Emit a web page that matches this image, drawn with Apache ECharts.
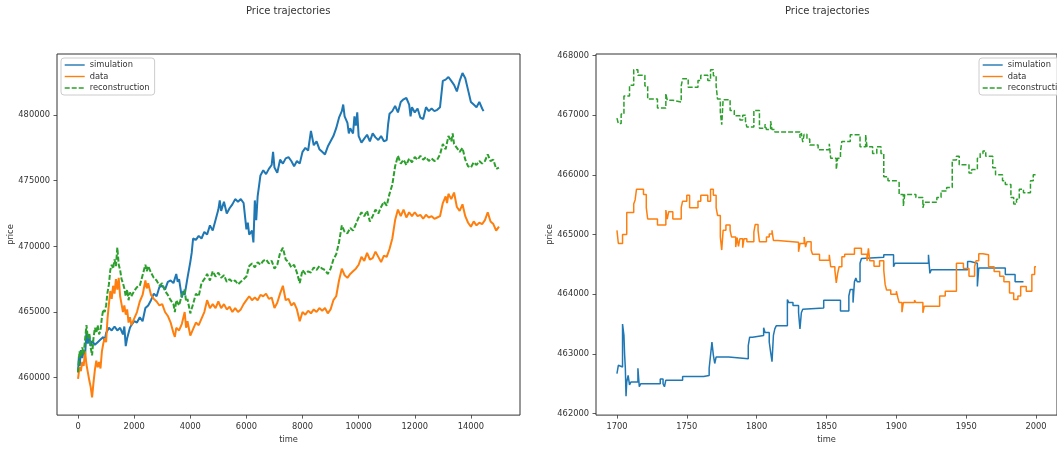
<!DOCTYPE html>
<html>
<head>
<meta charset="utf-8">
<script src="https://cdn.jsdelivr.net/npm/echarts@6/dist/echarts.min.js"></script>
<style>
html,body{margin:0;padding:0;background:#fff;}
#chart{width:1057px;height:449px;}
</style>
</head>
<body>
<div id="chart"></div>
<script>
// ---- data (prices in thousands) ----
const seriesNames = ['simulation', 'data', 'reconstruction'];
const titleText = 'Price trajectories';

// Left panel: full trajectories
const simLeftT = [0,30,60,100,150,200,250,300,350,400,450,500,600,700,800,900,950,1000,1100,1200,1300,1400,1500,1600,1650,1700,1750,1800,1850,1900,2000,2100,2200,2300,2400,2500,2600,2700,2800,2900,3000,3100,3200,3300,3400,3500,3550,3600,3700,3750,3800,3900,4000,4050,4100,4200,4300,4400,4500,4600,4700,4800,4900,5000,5050,5100,5200,5300,5400,5500,5600,5700,5800,5900,6000,6050,6100,6200,6250,6300,6350,6400,6500,6600,6700,6800,6900,6950,7000,7100,7200,7300,7400,7500,7600,7700,7800,7900,8000,8100,8200,8300,8400,8500,8600,8700,8800,8900,9000,9100,9200,9300,9400,9450,9500,9600,9650,9700,9800,9850,9900,9950,10000,10100,10200,10300,10400,10500,10600,10700,10800,10900,11000,11050,11100,11200,11300,11400,11500,11600,11700,11800,11850,11900,12000,12100,12200,12300,12400,12500,12600,12700,12800,12900,13000,13100,13200,13300,13400,13500,13600,13700,13800,13900,14000,14100,14200,14300,14400,14450];
const simLeftV = [460.4,461.6,460.9,462.1,461.5,462.0,461.7,463.5,462.6,463.2,462.4,462.8,462.5,462.7,462.9,463.1,462.8,463.4,463.8,463.6,463.9,463.6,463.8,463.3,463.9,462.4,463.0,462.9,463.8,464.0,464.3,464.2,464.6,464.3,465.3,465.5,465.9,466.4,466.2,466.9,467.0,466.7,467.3,467.4,467.2,467.9,467.3,467.5,466.1,466.6,466.3,467.6,468.8,469.5,470.6,470.5,470.8,470.6,471.1,470.9,471.6,471.2,472.0,472.8,473.5,472.7,473.4,472.5,472.9,473.2,473.6,473.4,473.6,473.3,471.3,471.8,470.9,471.2,470.3,473.5,472.0,473.8,475.4,475.8,475.5,475.9,476.2,477.2,476.0,475.6,476.6,476.3,476.7,476.8,476.5,476.1,476.5,476.3,477.2,477.5,477.3,478.8,477.7,478.0,477.4,477.2,477.0,477.6,478.0,478.4,479.0,479.8,480.3,480.8,479.9,479.4,478.6,479.0,478.6,479.9,479.2,480.2,478.4,477.9,478.2,478.5,478.0,478.6,478.3,478.1,478.4,478.0,478.1,479.3,480.1,480.3,480.7,480.2,481.0,481.2,481.3,480.8,479.9,480.6,480.2,480.5,479.8,479.7,480.6,480.3,480.5,480.3,480.4,480.6,482.6,482.7,482.9,482.6,482.3,481.8,482.6,483.2,482.8,481.9,481.0,480.8,480.6,481.0,480.5,480.3];

const dataLeftT = [0,50,100,150,200,250,300,350,400,450,500,550,600,650,700,750,800,850,900,950,1000,1050,1100,1150,1200,1250,1300,1350,1400,1450,1500,1550,1600,1650,1700,1750,1800,1850,1900,2000,2100,2200,2300,2400,2450,2500,2600,2700,2800,2900,3000,3100,3200,3300,3400,3450,3500,3600,3700,3800,3850,3900,4000,4100,4200,4300,4400,4500,4600,4700,4800,4900,5000,5100,5200,5300,5400,5500,5600,5700,5800,5900,6000,6100,6200,6300,6400,6500,6600,6700,6800,6900,7000,7100,7200,7300,7400,7500,7600,7700,7800,7900,8000,8100,8200,8300,8400,8500,8600,8700,8800,8900,9000,9100,9200,9300,9400,9500,9600,9700,9800,9900,10000,10100,10200,10300,10400,10500,10600,10700,10800,10900,11000,11100,11200,11300,11400,11500,11600,11700,11800,11900,12000,12100,12200,12300,12400,12500,12600,12700,12800,12900,13000,13100,13150,13200,13300,13400,13500,13600,13700,13800,13900,14000,14100,14200,14300,14400,14500,14600,14700,14800,14900,15000];
const dataLeftV = [459.9,460.8,460.5,461.2,460.9,462.0,461.0,460.4,459.8,459.3,458.5,459.6,460.6,461.3,460.8,461.2,460.7,462.0,462.6,463.0,462.7,464.5,465.6,466.6,466.0,467.0,466.4,467.5,466.7,467.6,466.2,465.6,465.0,465.5,464.8,465.2,464.2,464.6,464.0,464.5,465.0,465.8,466.3,467.4,466.8,467.2,466.3,466.0,465.8,465.5,465.6,465.0,464.7,464.2,463.4,463.1,463.8,463.6,464.1,465.0,463.8,464.3,463.2,463.7,464.2,464.0,464.5,465.0,465.9,465.3,465.6,465.3,465.8,465.3,465.6,465.2,465.4,465.0,465.3,465.0,465.2,465.6,465.9,466.2,465.9,466.1,465.9,466.3,466.2,466.4,466.0,466.1,465.3,465.7,466.4,467.0,465.9,466.0,465.5,465.7,465.2,464.3,465.0,464.8,465.1,464.9,465.2,465.0,465.3,465.1,465.3,464.9,465.2,465.9,466.2,467.4,468.3,467.8,467.6,467.9,468.1,468.3,468.6,469.2,468.9,469.5,469.0,469.1,469.6,469.2,468.8,469.3,469.2,469.8,470.6,472.0,472.8,472.3,472.8,472.2,472.6,472.3,472.6,472.3,472.4,472.1,472.4,472.2,472.3,472.1,472.2,472.3,473.3,473.8,473.3,474.0,473.6,474.1,473.0,472.7,473.2,472.3,471.8,471.5,471.9,471.6,471.8,471.7,472.0,472.6,471.9,471.7,471.2,471.5];

const recLeftT = [0,50,100,150,200,250,300,350,400,450,500,550,600,650,700,750,800,850,900,950,1000,1050,1100,1150,1200,1250,1300,1350,1400,1450,1500,1550,1600,1650,1700,1750,1800,1850,1900,2000,2100,2200,2300,2400,2450,2500,2600,2700,2800,2900,3000,3100,3200,3300,3400,3450,3500,3600,3700,3800,3850,3900,4000,4100,4200,4300,4400,4500,4600,4700,4800,4900,5000,5100,5200,5300,5400,5500,5600,5700,5800,5900,6000,6100,6200,6300,6400,6500,6600,6700,6800,6900,7000,7100,7200,7300,7400,7500,7600,7700,7800,7900,8000,8100,8200,8300,8400,8500,8600,8700,8800,8900,9000,9100,9200,9300,9400,9500,9600,9700,9800,9900,10000,10100,10200,10300,10400,10500,10600,10700,10800,10900,11000,11100,11200,11300,11400,11500,11600,11700,11800,11900,12000,12100,12200,12300,12400,12500,12600,12700,12800,12900,13000,13100,13200,13300,13350,13400,13500,13600,13700,13800,13900,14000,14100,14200,14300,14400,14500,14600,14700,14800,14900,15000];
const recLeftV = [460.4,462.0,461.6,462.3,461.8,462.9,464.0,463.0,463.4,462.3,461.7,463.0,463.8,463.4,464.0,463.3,463.6,464.6,465.2,465.0,465.5,466.5,467.1,468.2,468.6,468.3,469.0,468.5,469.9,468.6,468.2,467.5,467.2,466.8,466.2,466.7,465.9,466.5,466.2,466.6,466.9,467.0,467.8,468.6,468.1,468.5,468.0,467.6,467.4,467.0,467.2,466.6,466.3,465.9,465.6,465.0,465.9,465.5,466.3,466.7,465.8,466.0,464.9,465.6,466.4,466.2,467.2,467.5,467.9,467.4,468.1,467.7,468.0,467.6,467.8,467.3,467.5,467.3,467.4,467.1,467.3,467.5,467.7,468.5,468.7,468.4,468.8,468.6,468.9,469.0,468.7,468.9,468.3,468.6,469.5,469.9,469.0,468.8,468.4,468.6,468.0,467.2,468.2,467.9,468.1,468.0,468.4,468.2,468.5,468.3,468.2,467.9,468.3,469.0,469.4,470.3,471.6,471.1,471.0,471.4,471.2,471.7,472.2,472.6,472.3,472.7,471.9,472.3,472.8,472.5,473.0,473.4,473.1,474.0,474.7,476.1,476.9,476.3,476.6,476.2,476.7,476.4,476.8,476.6,476.9,476.6,476.8,476.5,476.7,476.5,476.6,477.0,477.8,477.4,478.4,478.0,478.6,477.8,477.5,477.2,477.5,476.6,476.1,476.0,476.4,476.2,476.5,476.3,476.5,477.0,476.5,476.6,475.9,476.0];

// Right panel: zoom on time 1700-2000 (step values)
const simRightT = [1700,1701,1702,1704,1705,1705.5,1706,1706.5,1707,1708,1709,1710,1715,1716,1717,1731,1733,1734,1735,1747,1762,1766,1767,1768,1769,1770,1771,1780,1794,1795,1797,1805,1806,1809,1810,1811,1812,1813,1814,1822,1823,1826,1830,1831,1832,1833,1834,1848,1860,1866,1867,1869,1870,1871,1872,1874,1875,1876,1891,1898,1899,1923,1924,1925,1951,1953,1958,1959,1978,1985,1991];
const simRightV = [462.67,462.81,462.78,463.5,463.31,462.98,462.76,462.29,462.53,462.64,462.48,462.53,462.76,462.45,462.5,462.58,462.5,462.45,462.56,462.62,462.64,462.76,462.98,463.2,462.98,462.84,462.95,462.92,463.14,463.28,463.31,463.44,463.36,463.2,463.03,462.87,463.31,463.42,463.47,463.91,463.86,463.81,463.69,463.42,463.69,463.75,463.77,463.9,463.72,463.97,464.08,463.86,464.21,464.27,464.21,464.52,464.6,464.62,464.66,464.46,464.52,464.66,464.35,464.41,464.55,464.52,464.13,464.44,464.33,464.21,464.21];

const dataRightT = [1700,1701,1704,1707,1712,1713,1714,1719,1721,1722,1729,1735,1736,1737,1740,1746,1747,1750,1752,1758,1760,1765,1767,1769,1771,1772,1774,1775,1776,1778,1781,1782,1785,1786,1787,1788,1790,1791,1793,1798,1799,1801,1802,1807,1809,1811,1812,1815,1830,1831,1834,1835,1836,1839,1840,1845,1852,1853,1856,1857,1858,1859,1861,1863,1870,1875,1879,1880,1881,1884,1888,1891,1892,1893,1896,1900,1901,1902,1904,1905,1913,1914,1919,1920,1931,1935,1943,1948,1952,1956,1957,1959,1962,1966,1970,1974,1977,1981,1984,1987,1989,1993,1997,1999,2000];
const dataRightV = [465.07,464.85,465.0,465.37,465.51,465.58,465.76,465.67,465.45,465.26,465.16,465.41,465.26,465.38,465.26,465.45,465.56,465.66,465.45,465.56,465.66,465.56,465.76,465.66,465.45,465.32,464.96,464.74,465.07,465.16,465.07,464.96,464.79,464.95,464.8,464.93,464.78,464.93,464.88,465.04,465.17,465.07,464.88,464.96,465.01,465.07,464.9,464.87,464.71,464.85,464.96,464.79,464.88,464.74,464.67,464.57,464.66,464.46,464.4,464.19,464.35,464.46,464.63,464.67,464.77,464.67,464.56,464.77,464.56,464.47,464.56,464.4,464.16,464.07,464.0,464.05,463.95,463.86,463.7,463.86,463.9,463.86,463.69,463.8,463.97,464.05,464.52,464.43,464.3,464.46,464.56,464.68,464.66,464.46,464.38,464.3,464.21,464.02,463.91,463.97,464.13,464.05,464.33,464.46,464.46];

const recRightT = [1700,1701,1703,1705,1709,1712,1715,1720,1722,1729,1735,1736,1740,1746,1747,1751,1758,1760,1765,1767,1769,1771,1772,1774,1775,1776,1781,1784,1788,1790,1792,1793,1798,1802,1806,1807,1810,1811,1813,1831,1832,1833,1834,1836,1838,1844,1852,1853,1857,1858,1860,1861,1867,1874,1878,1879,1883,1886,1889,1891,1894,1900,1902,1905,1906,1914,1919,1920,1929,1932,1936,1940,1943,1945,1952,1954,1958,1960,1962,1964,1969,1971,1976,1978,1982,1984,1986,1988,1991,1996,1998,2000];
const recRightV = [466.95,466.86,467.02,467.32,467.5,467.76,467.67,467.49,467.27,467.12,467.36,467.25,467.22,467.49,467.61,467.47,467.58,467.67,467.58,467.76,467.66,467.49,467.27,467.05,466.84,467.26,467.08,466.99,466.92,467.0,466.9,466.8,467.08,466.78,466.85,466.76,466.9,466.76,466.72,466.62,466.7,466.55,466.68,466.6,466.5,466.42,466.52,466.28,466.09,466.28,466.39,466.56,466.67,466.47,466.67,466.47,466.36,466.47,466.36,465.97,465.9,465.87,465.67,465.48,465.67,465.62,465.45,465.54,465.62,465.73,465.79,466.25,466.31,466.17,466.03,466.09,466.28,466.36,466.4,466.31,466.12,466.0,465.9,465.84,465.62,465.51,465.59,465.76,465.7,465.9,466.0,466.0];

// tick labels
const leftXTicks = [0,2000,4000,6000,8000,10000,12000,14000];
const leftYTicks = [460000,465000,470000,475000,480000];
const rightXTicks = [1700,1750,1800,1850,1900,1950,2000];
const rightYTicks = [462000,463000,464000,465000,466000,467000,468000];

// ---- build chart ----
const colors = ['#1f77b4', '#ff7f0e', '#2ca02c'];
const FONT = 'DejaVu Sans';
const TXT = '#333';
const FS = 8.3;

function pairs(t, v) { return t.map((x, i) => [x, v[i] * 1000]); }
const plain = v => String(Math.round(v));

function xAxisCfg(gridIndex, min, max, ticks) {
  return {
    type: 'value', gridIndex, min, max,
    name: 'time', nameLocation: 'middle', nameGap: 19,
    nameTextStyle: { fontFamily: FONT, fontSize: FS, color: TXT },
    axisLine: { show: false, onZero: false },
    axisTick: { show: true, length: 3.5, customValues: ticks, lineStyle: { color: '#333', width: 0.8 } },
    axisLabel: { customValues: ticks, formatter: plain, fontFamily: FONT, fontSize: FS, color: TXT, margin: 8 },
    splitLine: { show: false }
  };
}
function yAxisCfg(gridIndex, min, max, ticks) {
  return {
    type: 'value', gridIndex, min, max,
    name: 'price', nameLocation: 'middle', nameGap: 40,
    nameTextStyle: { fontFamily: FONT, fontSize: FS, color: TXT },
    axisLine: { show: false, onZero: false },
    axisTick: { show: true, length: 3.5, customValues: ticks, lineStyle: { color: '#333', width: 0.8 } },
    axisLabel: { customValues: ticks, formatter: plain, fontFamily: FONT, fontSize: FS, color: TXT, margin: 7 },
    splitLine: { show: false }
  };
}
function lineSeries(name, idx, data, axisIdx, step) {
  const s = {
    name, type: 'line', xAxisIndex: axisIdx, yAxisIndex: axisIdx,
    data, symbol: 'none', animation: false,
    lineStyle: { color: colors[idx], width: step ? 1.5 : 2.0 },
    itemStyle: { color: colors[idx] }
  };
  if (idx === 2) s.lineStyle.type = [5, 2];
  if (step) s.step = 'end';
  return s;
}
function legendCfg(left) {
  return {
    data: seriesNames, orient: 'vertical', left, top: 58,
    itemWidth: 20, itemHeight: 9, itemGap: 3.5,
    padding: [3, 5, 3, 3],
    backgroundColor: 'rgba(255,255,255,0.8)',
    borderColor: '#ccc', borderWidth: 1, borderRadius: 3,
    itemStyle: { opacity: 0 },
    lineStyle: { width: 1.4 },
    textStyle: { fontFamily: FONT, fontSize: FS, color: TXT },
    selectedMode: false
  };
}

const chart = echarts.init(document.getElementById('chart'), null, { renderer: 'canvas' });
chart.setOption({
  backgroundColor: '#fff',
  animation: false,
  title: [
    { text: titleText, left: 241, top: 1, textStyle: { fontFamily: FONT, fontSize: 10, fontWeight: 'normal', color: TXT } },
    { text: titleText, left: 780, top: 1, textStyle: { fontFamily: FONT, fontSize: 10, fontWeight: 'normal', color: TXT } }
  ],
  legend: [legendCfg(61), legendCfg(979)],
  grid: [
    { left: 57, top: 54, width: 463, height: 366, show: true, borderColor: '#333', borderWidth: 1 },
    { left: 596, top: 54, width: 466, height: 366, show: true, borderColor: '#333', borderWidth: 1 }
  ],
  xAxis: [xAxisCfg(0, -750, 15750, leftXTicks), xAxisCfg(1, 1685, 2015, rightXTicks)],
  yAxis: [yAxisCfg(0, 457150, 484650, leftYTicks), yAxisCfg(1, 461975, 468025, rightYTicks)],
  series: [
    lineSeries('simulation', 0, pairs(simLeftT, simLeftV), 0, false),
    lineSeries('data', 1, pairs(dataLeftT, dataLeftV), 0, false),
    lineSeries('reconstruction', 2, pairs(recLeftT, recLeftV), 0, false),
    lineSeries('simulation', 0, pairs(simRightT, simRightV), 1, true),
    lineSeries('data', 1, pairs(dataRightT, dataRightV), 1, true),
    lineSeries('reconstruction', 2, pairs(recRightT, recRightV), 1, true)
  ]
});
</script>
</body>
</html>
